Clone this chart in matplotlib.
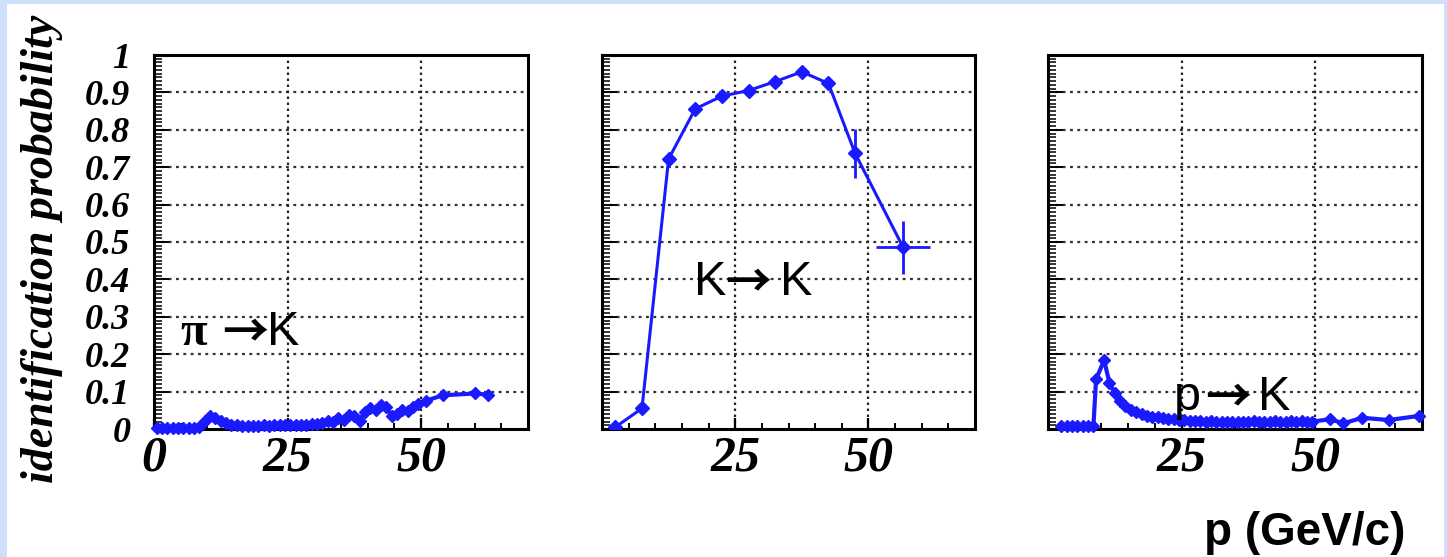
import matplotlib
matplotlib.use('Agg')
import matplotlib.pyplot as plt
from matplotlib.patches import Rectangle
import numpy as np

# pi -> K  (p in GeV/c, identification probability)
pi_p = [0.5, 1.5, 2.5, 3.5, 4.5, 5.5, 6.5, 7.5, 8.5, 9.5, 10.5, 11.5, 12.5, 13.5,
        14.5, 15.5, 16.5, 17.5, 18.5, 19.5, 20.5, 21.5, 22.5, 23.5, 24.5, 25.5,
        26.5, 27.5, 28.5, 29.5, 30.5, 31.5, 32.5, 33.5, 34.5, 35.5, 36.5, 37.5,
        38.5, 39.5, 40.5, 41.5, 42.5, 43.5, 44.5, 45.5, 46.5, 47.5, 48.5, 49.5,
        51.0, 54.0, 60.0, 62.5]
pi_eff = [0.004, 0.004, 0.004, 0.004, 0.004, 0.004, 0.004, 0.004, 0.006, 0.022,
          0.036, 0.030, 0.021, 0.015, 0.012, 0.010, 0.009, 0.009, 0.008, 0.009,
          0.010, 0.009, 0.010, 0.011, 0.010, 0.011, 0.012, 0.011, 0.012, 0.013,
          0.014, 0.016, 0.021, 0.018, 0.030, 0.024, 0.038, 0.034, 0.022, 0.045,
          0.055, 0.050, 0.063, 0.058, 0.034, 0.040, 0.050, 0.047, 0.060, 0.066,
          0.076, 0.090, 0.095, 0.092]

# K -> K
k_p = [2.5, 7.5, 12.5, 17.5, 22.5, 27.5, 32.5, 37.5, 42.5, 47.5, 56.5]
k_eff = [0.005, 0.055, 0.722, 0.856, 0.890, 0.905, 0.929, 0.955, 0.924, 0.737, 0.486]
k_yerr = [0, 0, 0, 0, 0, 0, 0, 0, 0, 0.065, 0.071]
k_xerr = [0, 0, 0, 0, 0, 0, 0, 0, 0, 0, 5.0]

# p -> K
pr_p = [2.5, 3.5, 4.5, 5.5, 6.5, 7.5, 8.5, 9.0, 10.5, 11.5, 12.5, 13.5, 14.5,
        15.5, 16.5, 17.5, 18.5, 19.5, 20.5, 21.5, 22.5, 23.5, 24.5, 25.5, 26.5,
        27.5, 28.5, 29.5, 30.5, 31.5, 32.5, 33.5, 34.5, 35.5, 36.5, 37.5, 38.5,
        39.5, 40.5, 41.5, 42.5, 43.5, 44.5, 45.5, 46.5, 47.5, 48.5, 49.5, 52.8,
        55.3, 58.8, 63.8, 69.4]
pr_eff = [0.008, 0.008, 0.008, 0.008, 0.008, 0.008, 0.008, 0.133, 0.184, 0.124,
          0.095, 0.076, 0.061, 0.051, 0.045, 0.040, 0.036, 0.033, 0.031, 0.029,
          0.028, 0.027, 0.025, 0.023, 0.022, 0.022, 0.021, 0.020, 0.021, 0.019,
          0.020, 0.018, 0.019, 0.020, 0.018, 0.019, 0.021, 0.018, 0.020, 0.019,
          0.022, 0.018, 0.020, 0.021, 0.019, 0.022, 0.018, 0.020, 0.026, 0.015,
          0.030, 0.024, 0.035]

# panel labels: (from particle, to particle)
lab_from = ['π', 'K', 'p']
lab_to = ['K', 'K', 'K']
# x of first glyph, arrow centre, second glyph; baseline  (pixels, from top-left)
lab_px = [(180, 245, 267, 345), (694, 748, 780, 295), (1174, 1228, 1258, 410)]

W, H = 1447, 557
blue = '#1a1aff'
serif = 'Liberation Serif'
sans = ['Liberation Sans', 'DejaVu Sans']

fig = plt.figure(figsize=(W / 100, H / 100), dpi=100)
fig.patch.set_facecolor('#cde1fc')
fig.patches.append(Rectangle((7 / W, 0), (1444 - 7) / W, (H - 4) / H,
                             transform=fig.transFigure, facecolor='white',
                             edgecolor='none', zorder=-10))

lefts = [154, 602, 1048]
widths = [374, 373, 374]
axes = []
for l, w in zip(lefts, widths):
    ax = fig.add_axes([l / W, (H - 429) / H, w / W, 374 / H])
    ax.set_xlim(0, 70)
    ax.set_ylim(0, 1)
    ax.set_facecolor('white')
    for s in ax.spines.values():
        s.set_linewidth(2.2)
        s.set_color('black')
    ax.set_yticks(np.round(np.arange(0, 1.01, 0.1), 1))
    ax.set_yticks(np.round(np.arange(0, 1.001, 0.01), 2), minor=True)
    ax.set_xticks(np.arange(0, 71, 5), minor=True)
    ax.tick_params(which='both', direction='in', top=False, right=False, color='black')
    ax.tick_params(axis='y', which='major', length=11, width=1.4, pad=17)
    ax.tick_params(axis='y', which='minor', length=6, width=1.1)
    ax.tick_params(axis='x', which='major', length=8, width=1.6, pad=5)
    ax.tick_params(axis='x', which='minor', length=4, width=1.4)
    for g in [0.1, 0.2, 0.3, 0.4, 0.5, 0.6, 0.7, 0.8, 0.9]:
        ax.axhline(g, color='#333333', lw=1.6, ls=(0, (1.3, 2.0)), zorder=1)
    for g in [25, 50]:
        ax.axvline(g, color='#222222', lw=1.6, ls=(0, (1.1, 1.6)), zorder=1)
    axes.append(ax)

ax1, ax2, ax3 = axes
ax1.set_xticks([0, 25, 50])
ax1.set_yticklabels(['0', '0.1', '0.2', '0.3', '0.4', '0.5', '0.6', '0.7', '0.8', '0.9', '1'])
ax2.set_xticks([25, 50])
ax3.set_xticks([25, 50])
ax2.set_yticklabels([])
ax3.set_yticklabels([])
for ax in axes:
    for t in ax.get_xticklabels():
        t.set_fontfamily(serif)
        t.set_fontweight('bold')
        t.set_fontstyle('italic')
        t.set_fontsize(36)
    for t in ax.get_yticklabels():
        t.set_fontfamily(serif)
        t.set_fontweight('bold')
        t.set_fontstyle('italic')
        t.set_fontsize(26)

ax1.plot(pi_p, pi_eff, color=blue, lw=3.0, marker='D', ms=6, zorder=3, clip_on=False)
ax2.errorbar(k_p, k_eff, yerr=k_yerr, xerr=k_xerr, color=blue, lw=2.2, elinewidth=2.0,
             capsize=0, marker='D', ms=7.5, zorder=3)
ax3.plot(pr_p, pr_eff, color=blue, lw=3.0, marker='D', ms=6, zorder=3, clip_on=False)

for a, b, (x0, xa, x1, yb) in zip(lab_from, lab_to, lab_px):
    fam = [serif] if a == 'π' else sans
    fig.text(x0 / W, (H - yb) / H, a, family=fam, fontsize=35,
             fontweight='bold' if a == 'π' else 'normal', ha='left', va='baseline')
    fig.text(xa / W, (H - yb + 17) / H, '→', family=['Noto Sans CJK JP'],
             fontsize=33, fontweight='bold', ha='center', va='center_baseline')
    fig.text(x1 / W, (H - yb) / H, b, family=sans, fontsize=35,
             ha='left', va='baseline')

fig.text(42 / W, (H - 249) / H, 'identification probability', rotation=90,
         family=serif, fontweight='bold', fontstyle='italic', fontsize=33,
         ha='center', va='center')
fig.text(1405 / W, (H - 545) / H, 'p (GeV/c)', family=sans, fontweight='bold',
         fontsize=33, ha='right', va='baseline')

fig.savefig('out.png', dpi=100)
